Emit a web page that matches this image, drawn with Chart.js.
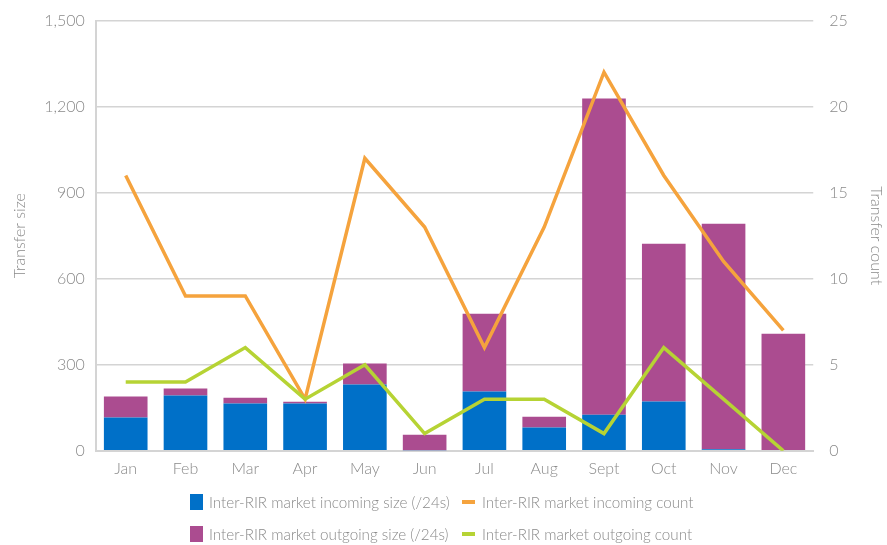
<!DOCTYPE html>
<html>
<head>
<meta charset="utf-8">
<script src="https://cdn.jsdelivr.net/npm/chart.js@4"></script>
<style>
  html, body { margin: 0; padding: 0; background: #fff; }
  #wrap { position: relative; width: 887px; height: 545px; }
  #legend {
    position: absolute; left: 190px; top: 492px;
    display: grid; grid-template-columns: 272px auto; row-gap: 12px;
    font-family: Lato, sans-serif; font-weight: 300; font-size: 15.2px; color: #8a8a8a;
  }
  .item { display: flex; align-items: center; height: 20px; white-space: nowrap; }
  .sw { display: inline-block; flex-shrink: 0; margin-right: 6px; }
</style>
</head>
<body>
<div id="wrap">
  <canvas id="chart" width="887" height="545"></canvas>
  <div id="legend"></div>
</div>
<script>
// months
const months = ['Jan','Feb','Mar','Apr','May','Jun','Jul','Aug','Sept','Oct','Nov','Dec'];
// bar values (/24s)
const incomingSize = [116, 193, 165, 165, 231, 2, 207, 81, 126, 172, 5, 0];
const outgoingSize = [73, 24, 20, 6, 73, 54, 271, 38, 1102, 550, 787, 408];
// line values (count)
const incomingCount = [16, 9, 9, 3, 17, 13, 6, 13, 22, 16, 11, 7];
const outgoingCount = [4, 4, 6, 3, 5, 1, 3, 3, 1, 6, 3, 0];
// tick steps
const sizeTicks = { max: 1500, step: 300 };
const countTicks = { max: 25, step: 5 };

const grey = '#8a8a8a';
const font = { family: 'Lato, sans-serif', size: 16, weight: 300 };

const chart = new Chart(document.getElementById('chart'), {
  data: {
    labels: months,
    datasets: [
      { type: 'line', label: 'Inter-RIR market incoming count', data: incomingCount, yAxisID: 'yc',
        borderColor: '#f5a33d', backgroundColor: '#f5a33d', borderWidth: 3.5, pointRadius: 0, tension: 0, order: 1 },
      { type: 'line', label: 'Inter-RIR market outgoing count', data: outgoingCount, yAxisID: 'yc',
        borderColor: '#b6d334', backgroundColor: '#b6d334', borderWidth: 3.5, pointRadius: 0, tension: 0, order: 0 },
      { type: 'bar', label: 'Inter-RIR market incoming size (/24s)', data: incomingSize, yAxisID: 'ys',
        backgroundColor: '#0070c8', barPercentage: 0.73, categoryPercentage: 1, stack: 's', order: 2 },
      { type: 'bar', label: 'Inter-RIR market outgoing size (/24s)', data: outgoingSize, yAxisID: 'ys',
        backgroundColor: '#ab4c90', barPercentage: 0.73, categoryPercentage: 1, stack: 's', order: 3 }
    ]
  },
  options: {
    responsive: false,
    animation: false,
    layout: { padding: { left: 6, right: 0, top: 12, bottom: 67 } },
    plugins: { legend: { display: false }, tooltip: { enabled: false } },
    scales: {
      x: {
        stacked: true,
        grid: { display: false },
        border: { color: '#d4d4d4', width: 2 },
        ticks: { color: grey, font: font, padding: 0 }
      },
      ys: {
        position: 'left', stacked: true, min: 0, max: sizeTicks.max,
        grid: { color: '#d4d4d4', lineWidth: 1.5, drawTicks: false },
        border: { color: '#d4d4d4', width: 2 },
        ticks: { stepSize: sizeTicks.step, color: grey, font: font, padding: 11,
                 callback: v => v.toLocaleString('en-US') },
        title: { display: true, text: 'Transfer size', color: grey, font: font, padding: 4 }
      },
      yc: {
        position: 'right', min: 0, max: countTicks.max,
        grid: { display: false },
        border: { display: false },
        ticks: { stepSize: countTicks.step, color: grey, font: font, padding: 8 },
        title: { display: true, text: 'Transfer count', color: grey, font: font, padding: { top: 1, bottom: 11 } }
      }
    }
  }
});

// legend in two columns, same order as the reference
const legendOrder = [2, 0, 3, 1];
const legendEl = document.getElementById('legend');
legendOrder.forEach(i => {
  const ds = chart.data.datasets[i];
  const item = document.createElement('div');
  item.className = 'item';
  const sw = document.createElement('span');
  sw.className = 'sw';
  sw.style.background = ds.type === 'bar' ? ds.backgroundColor : ds.borderColor;
  sw.style.width = '13px';
  sw.style.height = ds.type === 'bar' ? '16px' : '4px';
  if (ds.type !== 'bar') sw.style.marginRight = '7px';
  item.appendChild(sw);
  item.appendChild(document.createTextNode(ds.label));
  legendEl.appendChild(item);
});
</script>
</body>
</html>
